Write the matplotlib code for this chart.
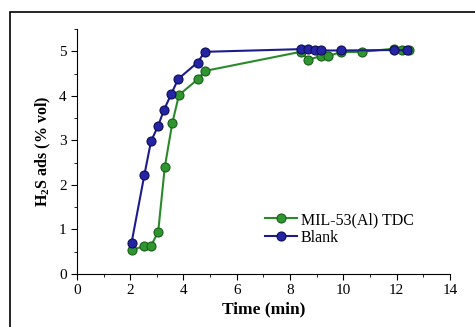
import matplotlib.pyplot as plt
from matplotlib.patches import Rectangle
from matplotlib.ticker import MultipleLocator

plt.rcParams['font.family'] = ['Liberation Serif', 'DejaVu Serif']
plt.rcParams['mathtext.fontset'] = 'custom'
plt.rcParams['mathtext.rm'] = 'Liberation Serif'
plt.rcParams['mathtext.bf'] = 'Liberation Serif:bold'

# data
blank_t = [2.05, 2.53, 2.78, 3.05, 3.27, 3.54, 3.80, 4.53, 4.80, 8.41, 8.66, 8.93, 9.18, 9.91, 11.91, 12.40]
blank_h2s = [0.70, 2.22, 2.98, 3.33, 3.69, 4.04, 4.38, 4.75, 4.99, 5.05, 5.05, 5.03, 5.02, 5.02, 5.03, 5.02]

mil_t = [2.08, 2.53, 2.78, 3.05, 3.30, 3.58, 3.83, 4.53, 4.80, 8.40, 8.69, 9.18, 9.44, 9.91, 10.69, 11.91, 12.19, 12.45]
mil_h2s = [0.54, 0.63, 0.63, 0.95, 2.41, 3.39, 4.02, 4.37, 4.56, 4.99, 4.81, 4.90, 4.90, 4.98, 4.99, 5.06, 5.03, 5.02]

green = '#2a8a2a'
blue = '#1c1c8e'

fig = plt.figure(figsize=(4.75, 3.27), dpi=100)
ax = fig.add_axes([0.162, 0.162, 0.785, 0.749])

ax.plot(mil_t, mil_h2s, '-o', color=green, lw=1.5, ms=6.5,
        mfc='#2f962f', mec='#1a5e1a', mew=0.8, label='MIL-53(Al) TDC')
ax.plot(blank_t, blank_h2s, '-o', color=blue, lw=1.5, ms=6.5,
        mfc='#2424a4', mec='#0e0e55', mew=0.8, label='Blank')

ax.set_xlim(0, 14)
ax.set_ylim(0, 5.5)
ax.xaxis.set_major_locator(MultipleLocator(2))
ax.xaxis.set_minor_locator(MultipleLocator(1))
ax.yaxis.set_major_locator(MultipleLocator(1))
ax.yaxis.set_minor_locator(MultipleLocator(0.5))
ax.tick_params(which='both', direction='out', labelsize=11)
ax.tick_params(which='major', length=4)
ax.tick_params(which='minor', length=2)
ax.spines['top'].set_visible(False)
ax.spines['right'].set_visible(False)

ax.set_xlabel('Time (min)', fontsize=12.5, fontweight='bold', labelpad=3)
ax.set_ylabel(r'H$_\mathbf{2}$S ads (% vol)', fontsize=11.5, fontweight='bold')

ax.legend(loc='center left', bbox_to_anchor=(0.465, 0.185), frameon=False,
          fontsize=11.5, handlelength=2.0, handletextpad=0.25, labelspacing=0.1)

# outer frame
fig.patches.append(Rectangle((10 / 475, -0.1), 1.2, 1.1 - 12 / 327, transform=fig.transFigure,
                             fill=False, ec='black', lw=1.2))

plt.savefig('out.png', dpi=100)
